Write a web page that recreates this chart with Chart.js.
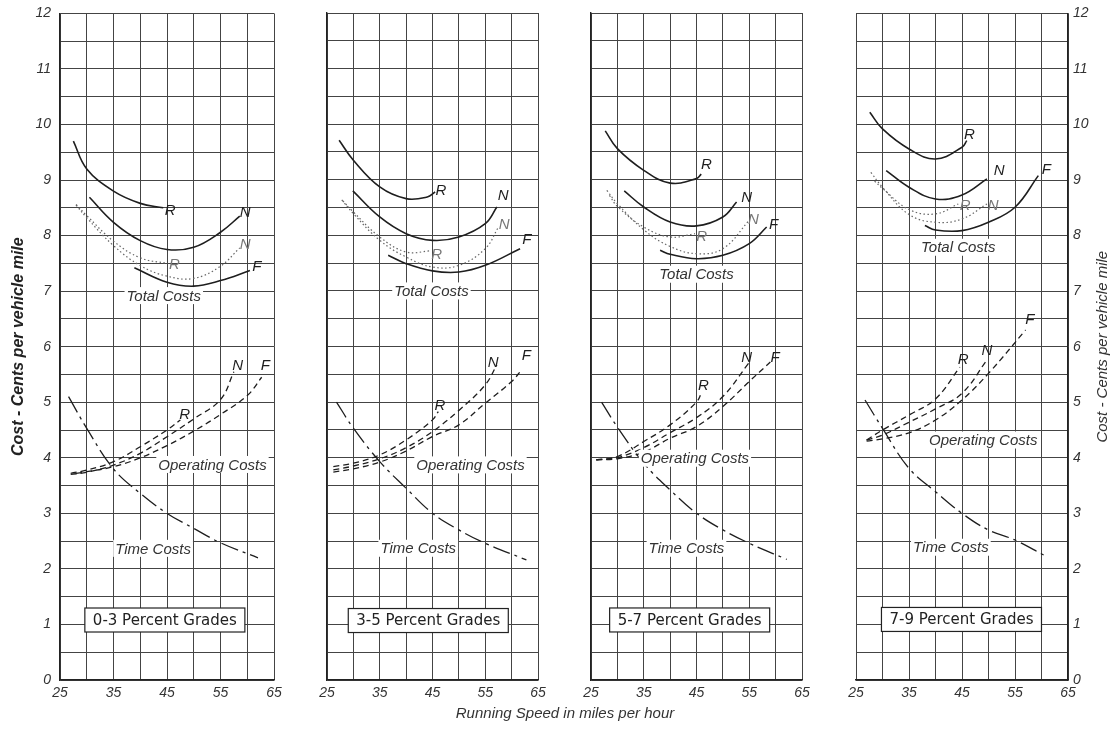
<!DOCTYPE html>
<html>
<head>
<meta charset="utf-8">
<script src="https://cdn.jsdelivr.net/npm/chart.js@4.4.1/dist/chart.umd.min.js"></script>
<style>
  body { margin: 0; background: #fff; }
  #wrap { position: relative; width: 1110px; height: 730px; overflow: hidden; }
  canvas { position: absolute; top: 0; }
  #xtitle { position: absolute; left: 365px; width: 400px; top: 704px; text-align: center;
    font: italic 15px "Liberation Sans", sans-serif; color: #333; }
</style>
</head>
<body>
<div id="wrap">
  <canvas id="cvsGrade03" width="288" height="734" style="left:0px; top:-4px"></canvas>
  <canvas id="cvsGrade35" width="239" height="730" style="left:313px"></canvas>
  <canvas id="cvsGrade57" width="239" height="730" style="left:577px"></canvas>
  <canvas id="cvsGrade79" width="268" height="730" style="left:842px"></canvas>
  <div id="xtitle">Running Speed in miles per hour</div>
</div>
<script>
// ! Datos: [velocidad mph, centavos por milla]
const speedMin = 25, speedMax = 65, speedStep = 5;
const costMin = 0, costMax = 12, costStep = 0.5;

// 0-3 percent grades
const g03TotalR = [[27.5,9.7],[30,9.2],[35,8.8],[40,8.58],[44.3,8.5]];
const g03TotalN = [[30.5,8.69],[35,8.24],[40,7.91],[45,7.75],[50,7.79],[55,8.06],[58.6,8.35]];
const g03DotR   = [[28,8.56],[30,8.36],[35,7.9],[40,7.6],[45,7.5]];
const g03DotN   = [[28,8.55],[30,8.32],[35,7.82],[40,7.46],[45,7.27],[50,7.23],[55,7.45],[58.6,7.78]];
const g03TotalF = [[38.9,7.42],[45,7.16],[50,7.09],[55,7.19],[60.5,7.37]];
const g03OpR    = [[27,3.72],[30,3.78],[35,3.93],[40,4.2],[45,4.5],[47.5,4.68]];
const g03OpN    = [[27,3.7],[30,3.74],[35,3.87],[40,4.08],[45,4.38],[50,4.7],[55,5.05],[57.5,5.55]];
const g03OpF    = [[28,3.72],[30,3.75],[35,3.84],[40,4.0],[45,4.22],[50,4.48],[55,4.78],[60,5.12],[62.7,5.45]];
const g03Time   = [[26.6,5.1],[30,4.53],[35,3.8],[40,3.36],[45,3.0],[50,2.73],[55,2.47],[62,2.2]];

// 3-5 percent grades
const g35TotalR = [[27.3,9.71],[30,9.35],[35,8.87],[40,8.66],[44,8.69],[45.5,8.78]];
const g35TotalN = [[29.9,8.8],[35,8.33],[40,8.03],[45,7.91],[50,7.97],[55,8.21],[57.2,8.51]];
const g35DotR   = [[28,8.62],[30,8.42],[35,7.97],[40,7.7],[44.5,7.72]];
const g35DotN   = [[27.8,8.64],[30,8.39],[35,7.91],[40,7.61],[45,7.43],[50,7.46],[55,7.76],[57.5,8.15]];
const g35TotalF = [[36.6,7.64],[40,7.49],[45,7.36],[50,7.34],[55,7.46],[61.6,7.76]];
const g35OpR    = [[26.2,3.84],[30,3.9],[35,4.05],[40,4.32],[45,4.68],[46.1,4.83]];
const g35OpN    = [[26.2,3.78],[30,3.85],[35,3.98],[40,4.18],[45,4.47],[50,4.85],[55,5.31],[57.2,5.67]];
const g35OpF    = [[26.2,3.74],[30,3.8],[35,3.92],[40,4.12],[45,4.38],[50,4.59],[55,4.98],[60,5.37],[61.9,5.58]];
const g35Time   = [[26.8,5.0],[30,4.53],[35,3.93],[40,3.45],[45,3.0],[50,2.7],[55,2.46],[62.8,2.16]];

// 5-7 percent grades
const g57TotalR = [[27.7,9.88],[30,9.56],[35,9.17],[40,8.94],[45,9.02],[45.9,9.1]];
const g57TotalN = [[31.3,8.8],[35,8.51],[40,8.24],[45,8.17],[50,8.33],[52.6,8.6]];
const g57DotR   = [[28.5,8.72],[30,8.52],[35,8.15],[40,7.97],[44.7,8.03]];
const g57DotN   = [[28,8.81],[30,8.57],[35,8.1],[40,7.8],[45,7.67],[50,7.76],[55,8.27]];
const g57TotalF = [[38.1,7.73],[40,7.66],[45,7.58],[50,7.64],[55,7.85],[58.3,8.15]];
const g57OpR    = [[26,3.96],[30,4.02],[35,4.29],[40,4.59],[45,5.0],[46,5.18]];
const g57OpN    = [[26,3.96],[30,4.0],[35,4.18],[40,4.45],[45,4.72],[50,5.1],[54.9,5.7]];
const g57OpF    = [[26,3.96],[30,3.98],[35,4.1],[40,4.35],[45,4.56],[50,4.92],[55,5.37],[59,5.72]];
const g57Time   = [[27,5.0],[30,4.55],[35,3.9],[40,3.42],[45,3.0],[50,2.7],[55,2.46],[62.1,2.17]];

// 7-9 percent grades
const g79TotalR = [[27.6,10.22],[30,9.92],[35,9.56],[40,9.38],[45,9.59],[45.9,9.71]];
const g79TotalN = [[30.7,9.17],[35,8.87],[40,8.66],[45,8.73],[49.7,9.02]];
const g79DotR   = [[28.5,8.98],[30,8.85],[35,8.47],[40,8.39],[44.3,8.57]];
const g79DotN   = [[27.8,9.14],[30,8.87],[35,8.38],[40,8.24],[45,8.3],[49.7,8.57]];
const g79TotalF = [[38,8.18],[40,8.1],[45,8.09],[50,8.24],[55,8.51],[59.4,9.08]];
const g79OpR    = [[27,4.32],[30,4.5],[35,4.77],[40,5.06],[44.6,5.63]];
const g79OpN    = [[27,4.32],[30,4.41],[35,4.64],[40,4.88],[45,5.16],[49.7,5.76]];
const g79OpF    = [[27,4.3],[30,4.34],[35,4.45],[40,4.68],[45,5.04],[50,5.52],[57,6.3]];
const g79Time   = [[26.7,5.04],[30,4.53],[35,3.81],[40,3.39],[45,3.0],[50,2.7],[55,2.52],[60.4,2.25]];

// textos del grafico: [texto, mph, centavos, tipo]
const g03Notes = [['R',45.6,8.47,'letter'],['N',59.6,8.42,'letter'],['N',59.6,7.85,'dot'],['R',46.4,7.5,'dot'],
  ['F',61.8,7.45,'letter'],['Total Costs',44.4,6.92,'caption'],['R',48.3,4.8,'letter'],['N',58.2,5.67,'letter'],
  ['F',63.4,5.67,'letter'],['Operating Costs',53.5,3.88,'caption'],['Time Costs',42.4,2.37,'caption'],
  ['0-3 Percent Grades',44.6,1.08,'grade']];
const g35Notes = [['R',46.6,8.81,'letter'],['N',58.4,8.72,'letter'],['N',58.6,8.21,'dot'],['R',45.8,7.67,'dot'],
  ['F',62.9,7.94,'letter'],['Total Costs',44.8,7.0,'caption'],['R',46.4,4.95,'letter'],['N',56.5,5.72,'letter'],
  ['F',62.8,5.85,'letter'],['Operating Costs',52.2,3.87,'caption'],['Time Costs',42.3,2.37,'caption'],
  ['3-5 Percent Grades',44.2,1.07,'grade']];
const g57Notes = [['R',46.9,9.29,'letter'],['N',54.5,8.69,'letter'],['N',55.8,8.3,'dot'],['R',46.0,8.0,'dot'],
  ['F',59.6,8.21,'letter'],['Total Costs',45,7.3,'caption'],['R',46.3,5.31,'letter'],['N',54.5,5.81,'letter'],
  ['F',59.9,5.81,'letter'],['Operating Costs',44.7,3.99,'caption'],['Time Costs',43.1,2.37,'caption'],
  ['5-7 Percent Grades',43.7,1.08,'grade']];
const g79Notes = [['R',46.4,9.83,'letter'],['N',52,9.18,'letter'],['R',45.6,8.56,'dot'],['N',50.9,8.56,'dot'],
  ['F',60.9,9.2,'letter'],['Total Costs',44.3,7.79,'caption'],['R',45.2,5.78,'letter'],['N',49.7,5.94,'letter'],
  ['F',57.8,6.5,'letter'],['Operating Costs',49,4.32,'caption'],['Time Costs',42.9,2.39,'caption'],
  ['7-9 Percent Grades',44.9,1.09,'grade']];

const yTitle = 'Cost - Cents per vehicle mile';

const ink = '#1e1e1e';
const noteStyles = {
  letter:  { font: 'italic 15px "Liberation Sans", sans-serif', color: ink },
  dot:     { font: 'italic 15px "Liberation Sans", sans-serif', color: '#777' },
  caption: { font: 'italic 15px "Liberation Sans", sans-serif', color: '#333', fill: true, pad: 2, h: 17 },
  grade:   { font: '15px "DejaVu Sans", sans-serif', color: '#222', fill: true, frame: true, pad: 8, h: 24 }
};

const notesPlugin = {
  id: 'notes',
  afterDatasetsDraw(chart, args, opts) {
    const ctx = chart.ctx, xs = chart.scales.x, ys = chart.scales.y;
    ctx.save();
    ctx.textAlign = 'center';
    ctx.textBaseline = 'middle';
    (opts.items || []).forEach(([text, sx, sy, kind]) => {
      const st = noteStyles[kind];
      const px = xs.getPixelForValue(sx), py = ys.getPixelForValue(sy);
      ctx.font = st.font;
      const w = ctx.measureText(text).width;
      if (st.fill) {
        ctx.fillStyle = '#fff';
        ctx.fillRect(px - w / 2 - st.pad, py - st.h / 2, w + st.pad * 2, st.h);
      }
      if (st.frame) {
        ctx.strokeStyle = '#222';
        ctx.lineWidth = 1.2;
        ctx.strokeRect(px - w / 2 - st.pad, py - st.h / 2, w + st.pad * 2, st.h);
      }
      ctx.fillStyle = st.color;
      ctx.fillText(text, px, py + 1);
    });
    // titulo derecho, leido de abajo hacia arriba
    if (opts.rightTitle) {
      const a = chart.chartArea;
      ctx.translate(opts.rightTitleX, (a.top + a.bottom) / 2);
      ctx.rotate(-Math.PI / 2);
      ctx.font = 'italic 15px "Liberation Sans", sans-serif';
      ctx.fillStyle = '#333';
      ctx.fillText(opts.rightTitle, 0, 0);
    }
    ctx.restore();
  }
};

const toXY = arr => arr.map(([x, y]) => ({ x, y }));
const curveStyles = {
  total: { borderColor: ink, borderWidth: 1.6, borderDash: [] },
  dot:   { borderColor: '#666', borderWidth: 1.2, borderDash: [1.5, 2.5] },
  op:    { borderColor: ink, borderWidth: 1.3, borderDash: [6, 4] },
  time:  { borderColor: ink, borderWidth: 1.3, borderDash: [18, 5, 3, 5] }
};
function curve(data, kind) {
  return Object.assign({
    data: toXY(data),
    pointRadius: 0,
    fill: false,
    tension: 0.4
  }, curveStyles[kind]);
}

const tickFont = { family: '"Liberation Sans", sans-serif', size: 14, style: 'italic' };
const gridStyle = { color: '#444', lineWidth: 1, drawTicks: false };

function drawPanel(canvasId, curves, notes, side) {
  const yAxis = {
    min: costMin, max: costMax,
    position: side === 'right' ? 'right' : 'left',
    grid: gridStyle,
    border: { display: true, color: '#222', width: 1.4 },
    ticks: {
      display: side !== 'none',
      stepSize: costStep,
      padding: side === 'right' ? 5 : 9,
      color: '#333',
      font: tickFont,
      autoSkip: false,
      callback: v => Number.isInteger(v) ? v : ''
    },
    title: {
      display: side === 'left',
      text: yTitle,
      color: '#222',
      font: { family: '"Liberation Sans", sans-serif', size: 16, style: 'italic', weight: 'bold' },
      padding: { top: 9, bottom: 0 }
    },
    afterFit: scale => { scale.width = side === 'left' ? 60 : side === 'right' ? 42 : 0; }
  };
  new Chart(document.getElementById(canvasId), {
    type: 'line',
    data: { datasets: curves },
    options: {
      responsive: false,
      animation: false,
      layout: { padding: { left: side === 'left' ? 0 : 14, right: side === 'right' ? 0 : 14, top: 13, bottom: 20 } },
      scales: {
        x: {
          type: 'linear',
          min: speedMin, max: speedMax,
          grid: gridStyle,
          border: { display: true, color: '#222', width: 1.4 },
          ticks: {
            stepSize: speedStep,
            padding: 5,
            color: '#333',
            font: tickFont,
            autoSkip: false,
            maxRotation: 0,
            callback: v => (v - speedMin) % 10 === 0 ? v : ''
          },
          afterFit: scale => { scale.height = 30; }
        },
        y: yAxis
      },
      plugins: {
        legend: { display: false },
        tooltip: { enabled: false },
        notes: {
          items: notes,
          rightTitle: side === 'right' ? yTitle : null,
          rightTitleX: 261
        }
      }
    },
    plugins: [notesPlugin]
  });
}

drawPanel('cvsGrade03', [
  curve(g03TotalR, 'total'), curve(g03TotalN, 'total'), curve(g03DotR, 'dot'), curve(g03DotN, 'dot'),
  curve(g03TotalF, 'total'), curve(g03OpR, 'op'), curve(g03OpN, 'op'), curve(g03OpF, 'op'), curve(g03Time, 'time')
], g03Notes, 'left');

drawPanel('cvsGrade35', [
  curve(g35TotalR, 'total'), curve(g35TotalN, 'total'), curve(g35DotR, 'dot'), curve(g35DotN, 'dot'),
  curve(g35TotalF, 'total'), curve(g35OpR, 'op'), curve(g35OpN, 'op'), curve(g35OpF, 'op'), curve(g35Time, 'time')
], g35Notes, 'none');

drawPanel('cvsGrade57', [
  curve(g57TotalR, 'total'), curve(g57TotalN, 'total'), curve(g57DotR, 'dot'), curve(g57DotN, 'dot'),
  curve(g57TotalF, 'total'), curve(g57OpR, 'op'), curve(g57OpN, 'op'), curve(g57OpF, 'op'), curve(g57Time, 'time')
], g57Notes, 'none');

drawPanel('cvsGrade79', [
  curve(g79TotalR, 'total'), curve(g79TotalN, 'total'), curve(g79DotR, 'dot'), curve(g79DotN, 'dot'),
  curve(g79TotalF, 'total'), curve(g79OpR, 'op'), curve(g79OpN, 'op'), curve(g79OpF, 'op'), curve(g79Time, 'time')
], g79Notes, 'right');
</script>
</body>
</html>
